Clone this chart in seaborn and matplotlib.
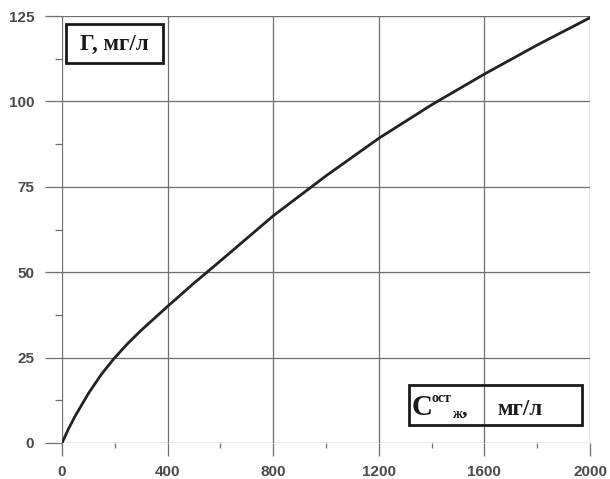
import matplotlib
matplotlib.use('Agg')
import matplotlib.pyplot as plt
from matplotlib.patches import Rectangle
from matplotlib.ticker import MultipleLocator
import seaborn as sns
import pandas as pd

# residual concentration vs adsorption
c_rest = [0, 25, 50, 100, 150, 200, 250, 300, 400, 500, 600, 800, 1000, 1200, 1400, 1600, 1800, 2000]
gamma = [0, 4.2, 7.9, 14.5, 20.2, 25, 29.2, 33, 40, 46.8, 53.3, 66.5, 78.2, 89.2, 99, 108, 116.5, 124.5]
x_ticks = [0, 400, 800, 1200, 1600, 2000]
y_ticks = [0, 25, 50, 75, 100, 125]

sns.set_style('white')
plt.rcParams['font.family'] = ['Liberation Sans', 'DejaVu Sans']

df = pd.DataFrame({'c': c_rest, 'g': gamma})

fig = plt.figure(figsize=(6.1, 4.79), dpi=100)
ax = fig.add_axes([62 / 610, 36 / 479, 528 / 610, 427 / 479])

sns.lineplot(data=df, x='c', y='g', ax=ax, color='#222222', linewidth=2.0)

grid_col = '#6e6e6e'
ax.set_xlim(0, 2000)
ax.set_ylim(0, 125)
ax.set_xticks(x_ticks)
ax.set_yticks(y_ticks)
ax.xaxis.set_minor_locator(MultipleLocator(200))
ax.yaxis.set_minor_locator(MultipleLocator(12.5))
ax.grid(True, which='major', color=grid_col, linewidth=0.9)
for s in ax.spines.values():
    s.set_visible(False)
ax.set_xlabel('')
ax.set_ylabel('')

ax.tick_params(which='both', bottom=True, left=True, top=False, right=False)
ax.tick_params(axis='x', which='major', direction='out', length=9.5, width=0.9,
               color=grid_col, pad=6, labelsize=11, labelcolor='#4a4a4a')
ax.tick_params(axis='y', which='major', direction='out', length=12, width=0.9,
               color=grid_col, pad=8, labelsize=11, labelcolor='#4a4a4a')
ax.tick_params(axis='x', which='minor', direction='out', length=3.5, width=0.9, color=grid_col)
ax.tick_params(axis='y', which='minor', direction='out', length=5, width=0.9, color=grid_col)
for lab in ax.get_xticklabels() + ax.get_yticklabels():
    lab.set_fontweight('bold')

# boxed labels (figure pixel coords converted to fractions)
W, H = 610, 479
serif = ['Liberation Serif', 'DejaVu Serif']


def fx(px):
    return px / W


def fy(py):
    return 1 - py / H


fig.patches.append(Rectangle((fx(66), fy(63)), (163 - 66) / W, (63 - 24) / H,
                             transform=fig.transFigure, fill=False,
                             edgecolor='#1a1a1a', linewidth=2.0))
fig.text(fx(114.5), fy(44), 'Г, мг/л', family=serif, fontweight='bold',
         fontsize=16.5, color='#1a1a1a', ha='center', va='center')

fig.patches.append(Rectangle((fx(409), fy(425)), (582 - 409) / W, (425 - 385) / H,
                             transform=fig.transFigure, fill=False,
                             edgecolor='#1a1a1a', linewidth=2.0))
fig.text(fx(412), fy(415), 'C', family=serif, fontweight='bold',
         fontsize=21, color='#1a1a1a', ha='left', va='baseline')
fig.text(fx(432), fy(402), 'ост', family=serif, fontweight='bold',
         fontsize=10, color='#1a1a1a', ha='left', va='baseline')
fig.text(fx(452), fy(418), 'ж', family=serif, fontweight='bold',
         fontsize=10, color='#1a1a1a', ha='left', va='baseline')
fig.text(fx(462), fy(415), ',', family=serif, fontweight='bold',
         fontsize=16, color='#1a1a1a', ha='left', va='baseline')
fig.text(fx(497), fy(415), 'мг/л', family=serif, fontweight='bold',
         fontsize=16.5, color='#1a1a1a', ha='left', va='baseline')

fig.savefig('out.png', dpi=100)
